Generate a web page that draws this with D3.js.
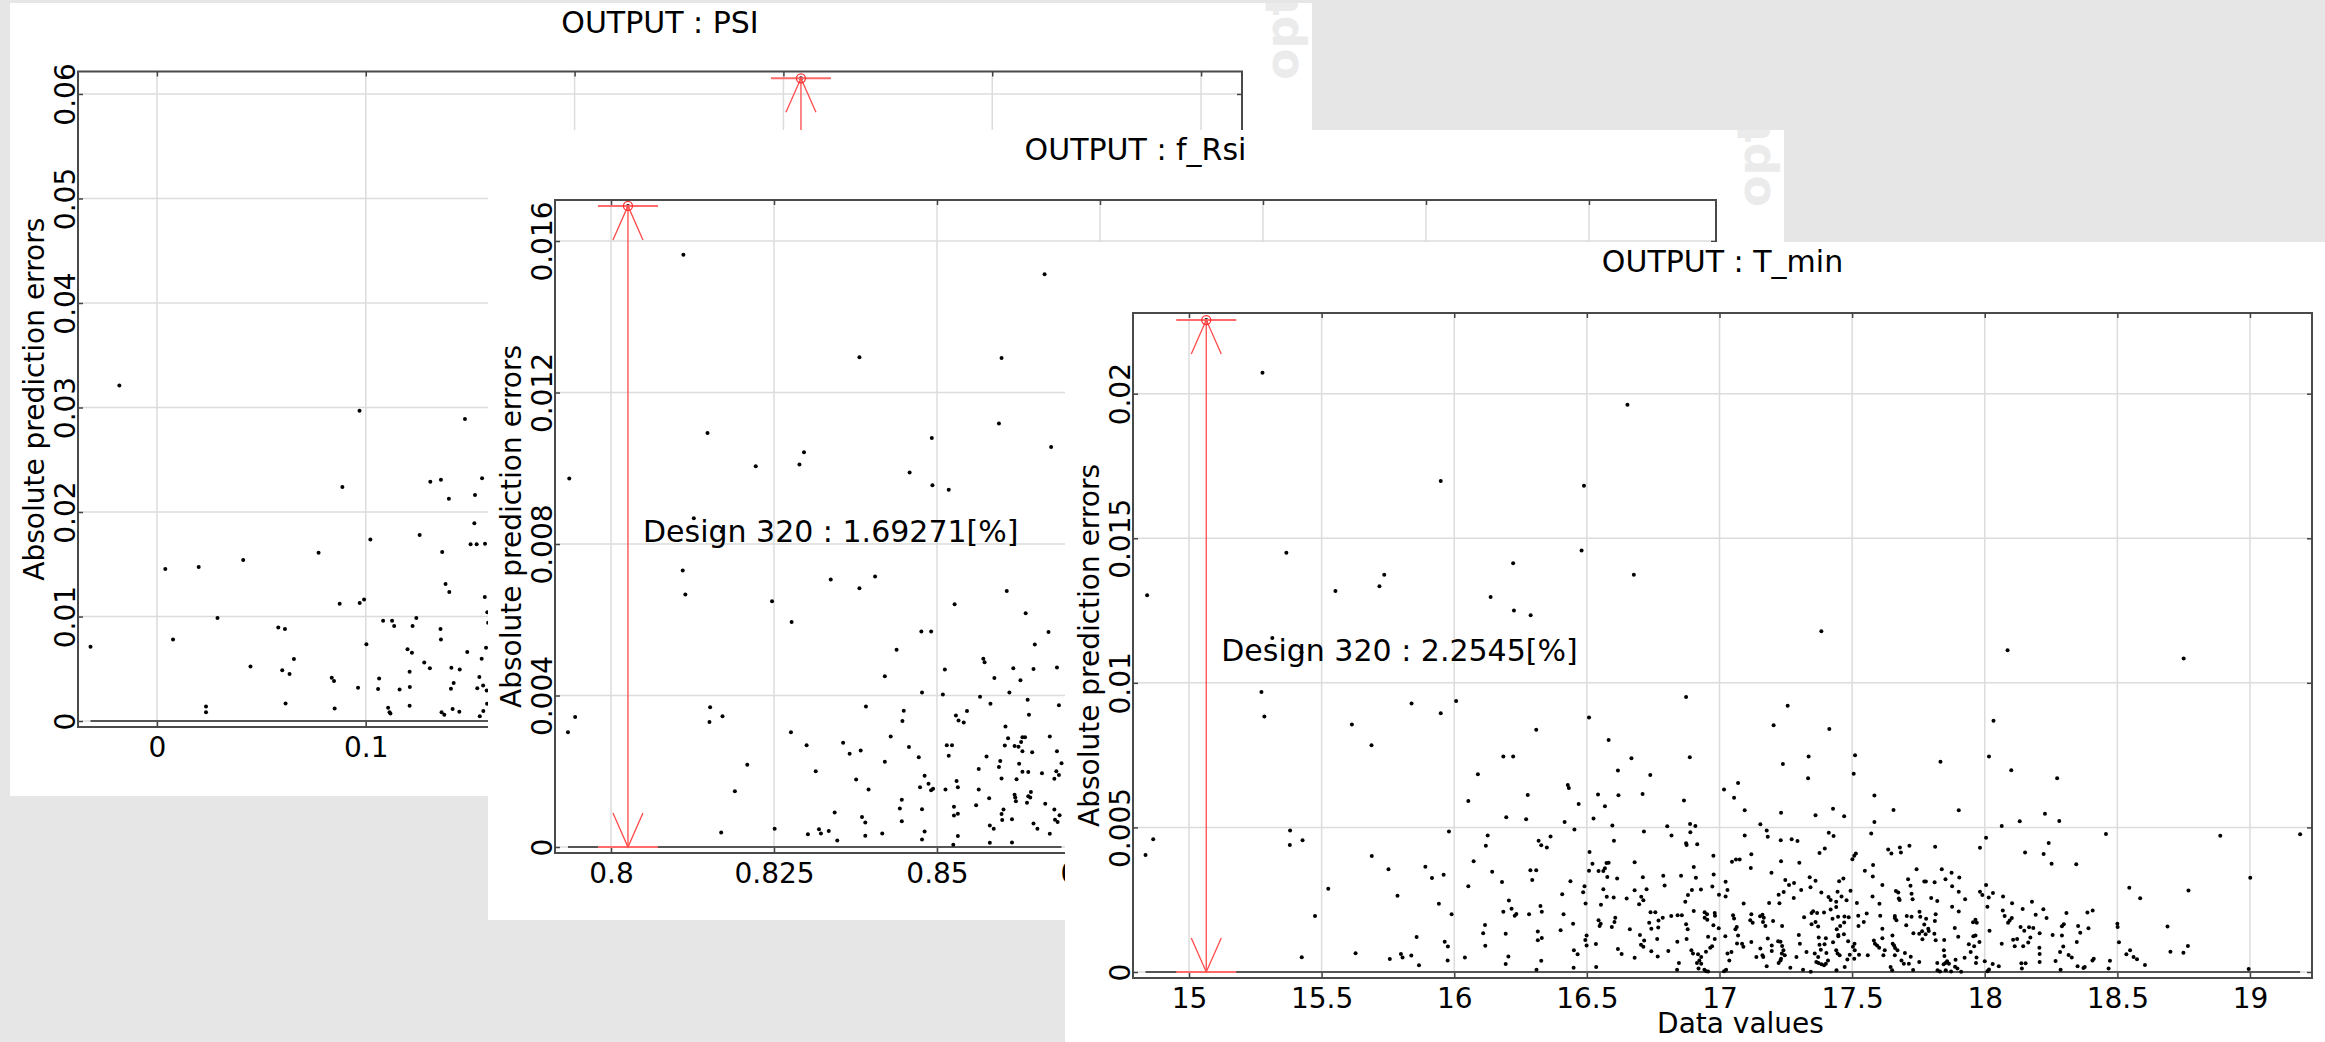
<!DOCTYPE html>
<html>
<head>
<meta charset="utf-8">
<script src="https://cdn.jsdelivr.net/npm/d3@7"></script>
<style>
html, body { margin: 0; padding: 0; background: #e6e6e6; overflow: hidden; }
svg { display: block; font-family: "DejaVu Sans", sans-serif; }
</style>
</head>
<body>
<svg id="chart" width="2325" height="1042"></svg>
<script>
const titles = ['OUTPUT : PSI', 'OUTPUT : f_Rsi', 'OUTPUT : T_min'];
const yTitle = 'Absolute prediction errors';
const xTitle = 'Data values';

const psiXTicks = [0, 0.1, 0.2, 0.3, 0.4, 0.5];
const psiXTickLabels = ['0', '0.1', '0.2', '0.3', '0.4', '0.5'];
const psiYTicks = [0, 0.01, 0.02, 0.03, 0.04, 0.05, 0.06];
const psiYTickLabels = ['0', '0.01', '0.02', '0.03', '0.04', '0.05', '0.06'];
const psiXDomain = [-0.0378, 0.5196];
const psiYDomain = [-0.00057, 0.06215];
const psiHighlight = [0.3084, 0.0615];

const fRsiXTicks = [0.8, 0.825, 0.85, 0.875, 0.9, 0.925, 0.95];
const fRsiXTickLabels = ['0.8', '0.825', '0.85', '0.875', '0.9', '0.925', '0.95'];
const fRsiYTicks = [0, 0.004, 0.008, 0.012, 0.016];
const fRsiYTickLabels = ['0', '0.004', '0.008', '0.012', '0.016'];
const fRsiXDomain = [0.79141, 0.96948];
const fRsiYDomain = [-0.000158, 0.017083];
const fRsiHighlight = [0.8026, 0.0169271];
const fRsiLabel = 'Design 320 : 1.69271[%]';

const tMinXTicks = [15, 15.5, 16, 16.5, 17, 17.5, 18, 18.5, 19];
const tMinXTickLabels = ['15', '15.5', '16', '16.5', '17', '17.5', '18', '18.5', '19'];
const tMinYTicks = [0, 0.005, 0.01, 0.015, 0.02];
const tMinYTickLabels = ['0', '0.005', '0.01', '0.015', '0.02'];
const tMinXDomain = [14.7888, 19.2338];
const tMinYDomain = [-0.000207, 0.02279];
const tMinHighlight = [15.065, 0.022545];
const tMinLabel = 'Design 320 : 2.2545[%]';

const psiPoints = [
  [-0.018,0.0321],[0.097,0.0297],[0.1475,0.0289],
  [-0.0318,0.00711],[0.0040,0.01455],[0.0077,0.00781],[0.0200,0.01474],[0.0235,0.00140],[0.0235,0.00083],
  [0.0290,0.00986],[0.0413,0.01541],[0.0448,0.00523],[0.0581,0.00896],[0.0613,0.00880],[0.0600,0.00485],
  [0.0635,0.00450],[0.0656,0.00593],[0.0616,0.00169],[0.0774,0.01611],[0.0837,0.00415],[0.0848,0.00383],
  [0.0851,0.00121],[0.0875,0.01123],[0.0888,0.02239],[0.0963,0.00319],[0.0971,0.01129],[0.0992,0.01164],
  [0.1003,0.00734],[0.1022,0.01738],[0.1059,0.00306],[0.1064,0.00408],[0.1083,0.00960],[0.1107,0.00128],
  [0.1114,0.00083],[0.1118,0.00073],[0.1126,0.00960],[0.1136,0.00909],[0.1162,0.00303],[0.1200,0.00686],
  [0.1210,0.00472],[0.1211,0.00325],[0.1210,0.00147],[0.1221,0.00654],[0.1224,0.00909],[0.1242,0.00986],
  [0.1258,0.01780],[0.1280,0.00561],[0.1307,0.00504],[0.1309,0.02290],[0.1360,0.02309],[0.1358,0.00880],
  [0.1360,0.00781],[0.1366,0.01617],[0.1382,0.01311],[0.1398,0.02128],[0.1400,0.01234],[0.1410,0.00510],
  [0.1408,0.00309],[0.1421,0.00364],[0.1363,0.00083],[0.1376,0.00061],[0.1416,0.00115],[0.1448,0.00089],
  [0.1450,0.00494],[0.1486,0.00660],[0.1502,0.01691],[0.1531,0.01691],[0.1520,0.01892],[0.1523,0.02163],
  [0.1557,0.02322],[0.1571,0.01697],[0.1570,0.01187],[0.1582,0.01040],[0.1586,0.00941],[0.1576,0.00702],
  [0.1555,0.00596],[0.1544,0.00421],[0.1534,0.00313],[0.1562,0.00341],[0.1579,0.00293],[0.1581,0.00166],
  [0.1563,0.00096],[0.1546,0.00045],
  [0.3084,0.0615]
];

const fRsiPoints = [
  [0.8026,0.0169271],[0.8111,0.01564],[0.8665,0.01512],[0.8381,0.01293],[0.8599,0.01291],[0.8148,0.01093],
  [0.7936,0.00973],[0.8222,0.01005],[0.8289,0.01010],[0.8296,0.01042],[0.8458,0.00989],[0.8492,0.01080],
  [0.8493,0.00955],[0.8518,0.00943],[0.8595,0.01118],[0.8675,0.01056],[0.8127,0.00868],[0.8170,0.00833],
  [0.8110,0.00730],[0.8114,0.00667],[0.8247,0.00649],[0.8277,0.00594],[0.8337,0.00706],[0.8381,0.00683],
  [0.8405,0.00714],[0.8527,0.00641],[0.8607,0.00676],[0.8636,0.00617],[0.8671,0.00568],[0.8476,0.00569],
  [0.8491,0.00569],[0.8438,0.00521],[0.8420,0.00451],[0.8512,0.00469],[0.8477,0.00408],[0.8509,0.00403],
  [0.8571,0.00497],[0.8573,0.00488],[0.8588,0.00446],[0.8617,0.00472],[0.8648,0.00470],[0.8650,0.00535],
  [0.8684,0.00474],[0.8628,0.00440],[0.8566,0.00397],[0.8611,0.00408],[0.8582,0.00378],[0.8639,0.00389],
  [0.8641,0.00349],[0.8687,0.00374],[0.8605,0.00318],[0.8609,0.00287],[0.8604,0.00268],[0.8619,0.00267],
  [0.8625,0.00265],[0.8629,0.00277],[0.8631,0.00290],[0.8635,0.00290],[0.8631,0.00253],[0.8646,0.00250],
  [0.8673,0.00292],[0.8684,0.00253],[0.8691,0.00221],[0.8576,0.00239],[0.8597,0.00227],[0.8595,0.00211],
  [0.8626,0.00220],[0.8564,0.00206],[0.8599,0.00181],[0.8622,0.00179],[0.8631,0.00199],[0.8640,0.00198],
  [0.8661,0.00195],[0.8680,0.00180],[0.8683,0.00200],[0.8687,0.00190],[0.8564,0.00152],[0.8580,0.00129],
  [0.8560,0.00110],[0.8619,0.00138],[0.8620,0.00131],[0.8621,0.00121],[0.8638,0.00117],[0.8640,0.00134],
  [0.8644,0.00145],[0.8643,0.00131],[0.8666,0.00114],[0.8680,0.00099],[0.8688,0.00084],[0.8681,0.00072],
  [0.8685,0.00066],[0.8602,0.00099],[0.8599,0.00087],[0.8600,0.00071],[0.8615,0.00073],[0.8581,0.00057],
  [0.8587,0.00048],[0.8648,0.00062],[0.8654,0.00048],[0.8673,0.00035],[0.8615,0.00012],[0.8581,0.00011],
  [0.8525,0.00006],[0.8532,0.00029],[0.8526,0.00106],[0.8526,0.00083],[0.8532,0.00088],[0.8513,0.00152],
  [0.8530,0.00174],[0.8532,0.00158],[0.8515,0.00269],[0.8523,0.00269],[0.8518,0.00241],[0.8529,0.00347],
  [0.8533,0.00334],[0.8541,0.00329],[0.8546,0.00359],[0.8449,0.00360],[0.8447,0.00333],[0.8391,0.00371],
  [0.8429,0.00292],[0.8457,0.00264],[0.8420,0.00225],[0.8472,0.00237],[0.8481,0.00188],[0.8487,0.00167],
  [0.8491,0.00150],[0.8494,0.00154],[0.8474,0.00158],[0.8446,0.00125],[0.8443,0.00102],[0.8446,0.00068],
  [0.8477,0.00100],[0.8481,0.00041],[0.8477,0.00020],[0.8416,0.00036],[0.8390,0.00030],[0.8385,0.00079],
  [0.8390,0.00065],[0.8395,0.00152],[0.8376,0.00178],[0.8383,0.00255],[0.8366,0.00246],[0.8356,0.00275],
  [0.8314,0.00200],[0.8300,0.00269],[0.8276,0.00303],[0.8343,0.00091],[0.8347,0.00017],[0.8334,0.00042],
  [0.8319,0.00047],[0.8322,0.00036],[0.8302,0.00034],[0.8251,0.00048],[0.8209,0.00217],[0.8190,0.00147],
  [0.8169,0.00038],[0.8152,0.00369],[0.8151,0.00330],[0.8171,0.00345],[0.7934,0.00303],[0.7945,0.00343]
];

const tMinPoints = [
  [15.065,0.022545],[15.277,0.02072],[15.949,0.01698],[16.489,0.01682],[16.653,0.01962],[16.480,0.01458],
  [16.222,0.01414],[16.677,0.01374],[15.367,0.01450],[15.736,0.01374],[15.718,0.01334],[15.552,0.01318],
  [14.842,0.01303],[16.137,0.01297],[16.225,0.01250],[16.288,0.01234],[15.314,0.01155],[15.424,0.01106],
  [15.273,0.00968],[15.284,0.00884],[15.614,0.00856],[15.688,0.00784],[15.839,0.00929],[15.949,0.00895],
  [16.007,0.00937],[16.309,0.00838],[16.508,0.00880],[16.582,0.00802],[16.668,0.00739],[16.617,0.00697],
  [16.739,0.00681],[16.185,0.00745],[16.222,0.00745],[16.089,0.00684],[16.874,0.00951],[16.888,0.00743],
  [17.384,0.01178],[18.086,0.01113],[18.750,0.01084],[17.257,0.00921],[17.204,0.00853],[17.414,0.00840],
  [18.033,0.00869],[17.336,0.00745],[17.239,0.00719],[17.511,0.00750],[17.506,0.00686],[17.833,0.00727],
  [18.016,0.00745],[18.100,0.00698],[18.273,0.00670],[17.334,0.00670],
  [14.836,0.00405],[14.865,0.00459],[15.381,0.00489],[15.428,0.00456],[15.380,0.00439],[15.425,0.00051],
  [15.475,0.00194],[15.525,0.00288],[15.628,0.00065],[15.689,0.00401],[15.752,0.00355],[15.786,0.00264],
  [15.757,0.00045],[15.799,0.00062],[15.805,0.00050],[15.838,0.00057],[15.858,0.00121],[15.867,0.00023],
  [15.891,0.00364],[15.916,0.00325],[15.942,0.00236],[15.960,0.00336],[15.964,0.00105],[15.976,0.00088],
  [15.975,0.00040],[15.980,0.00486],[15.990,0.00200],[16.040,0.00050],[16.053,0.00591],[16.053,0.00297],
  [16.073,0.00383],[16.126,0.00472],[16.119,0.00437],[16.143,0.00347],[16.180,0.00311],[16.206,0.00247],
  [16.216,0.00219],[16.185,0.00208],[16.228,0.00195],[16.234,0.00201],[16.116,0.00163],[16.109,0.00134],
  [16.194,0.00132],[16.117,0.00091],[16.204,0.00054],[16.194,0.00028],[16.196,0.00535],
  [16.428,0.00647],[16.432,0.00636],[16.277,0.00612],[16.542,0.00614],[16.619,0.00611],[16.710,0.00616],
  [17.070,0.00654],[17.017,0.00631],[17.055,0.00603],[16.866,0.00593],[16.469,0.00581],[16.568,0.00573],
  [17.095,0.00559],[17.232,0.00551],[17.584,0.00610],[17.656,0.00560],[17.428,0.00565],[17.470,0.00539],
  [17.362,0.00542],[16.271,0.00528],[16.525,0.00531],[16.416,0.00519],[17.584,0.00519],[16.596,0.00507],
  [16.803,0.00504],[16.889,0.00512],[16.909,0.00505],[17.154,0.00511],[16.453,0.00493],[16.715,0.00486],
  [16.890,0.00483],[17.178,0.00489],[16.363,0.00469],[16.819,0.00472],[17.095,0.00472],[17.182,0.00468],
  [17.572,0.00479],[17.412,0.00482],[17.430,0.00470],[16.318,0.00454],[16.602,0.00454],[17.231,0.00456],
  [17.272,0.00459],[17.294,0.00453],[16.328,0.00438],[16.349,0.00431],[16.874,0.00445],[16.876,0.00439],
  [16.916,0.00442],[16.510,0.00415],[17.377,0.00412],[17.397,0.00427],[17.636,0.00424],[17.648,0.00410],
  [17.680,0.00431],[17.684,0.00413],[17.716,0.00437],[16.977,0.00402],[17.120,0.00407],[17.508,0.00402],
  [17.514,0.00410],[17.501,0.00390],[17.047,0.00381],[17.062,0.00389],[17.076,0.00389],[16.521,0.00374],
  [16.680,0.00380],[16.574,0.00377],[16.582,0.00378],[16.568,0.00359],[17.232,0.00383],[17.301,0.00378],
  [16.287,0.00352],[16.309,0.00352],[16.508,0.00350],[16.544,0.00349],[16.562,0.00349],[16.903,0.00363],
  [17.118,0.00360],[17.548,0.00350],[17.579,0.00370],[17.743,0.00355],[16.294,0.00318],[16.438,0.00314],
  [16.577,0.00329],[16.614,0.00323],[16.711,0.00328],[16.788,0.00333],[16.855,0.00333],[16.911,0.00326],
  [16.978,0.00337],[17.196,0.00343],[17.248,0.00318],[17.281,0.00308],[17.340,0.00328],[17.362,0.00316],
  [17.451,0.00314],[17.467,0.00323],[17.578,0.00330],[17.711,0.00321],[17.772,0.00313],[16.491,0.00297],
  [16.486,0.00276],[16.562,0.00286],[16.680,0.00283],[16.725,0.00286],[16.793,0.00299],[16.896,0.00284],
  [16.930,0.00285],[16.973,0.00296],[17.023,0.00312],[17.030,0.00284],[17.242,0.00277],[17.262,0.00301],
  [17.308,0.00284],[17.343,0.00293],[17.384,0.00275],[17.445,0.00278],[17.494,0.00281],[17.614,0.00301],
  [17.665,0.00280],[17.674,0.00275],[17.720,0.00298],[17.724,0.00271],[16.407,0.00269],[16.575,0.00260],
  [16.601,0.00258],[16.650,0.00254],[16.705,0.00260],[16.713,0.00248],[16.881,0.00266],[16.998,0.00267],
  [17.023,0.00261],[17.223,0.00267],[17.280,0.00256],[17.411,0.00259],[17.419,0.00249],[17.460,0.00261],
  [17.479,0.00248],[17.577,0.00261],[17.676,0.00254],[17.679,0.00249],[17.728,0.00252],[16.495,0.00237],
  [16.553,0.00233],[16.697,0.00234],[16.871,0.00243],[17.091,0.00237],[17.187,0.00239],[17.226,0.00238],
  [17.440,0.00243],[17.518,0.00239],[17.603,0.00236],[16.325,0.00228],[16.330,0.00208],[16.282,0.00200],
  [16.412,0.00200],[16.740,0.00207],[16.758,0.00207],[16.903,0.00211],[16.818,0.00194],[16.842,0.00196],
  [16.858,0.00196],[16.944,0.00207],[16.953,0.00200],[16.982,0.00204],[16.983,0.00195],[17.120,0.00200],
  [17.153,0.00193],[17.162,0.00198],[17.555,0.00202],[17.754,0.00208],[17.319,0.00189],[17.347,0.00204],
  [17.353,0.00210],[17.368,0.00204],[17.394,0.00206],[17.419,0.00216],[17.440,0.00225],[17.447,0.00191],
  [17.471,0.00192],[17.487,0.00189],[17.523,0.00195],[17.606,0.00195],[17.661,0.00194],[17.706,0.00194],
  [17.724,0.00191],[16.544,0.00179],[16.552,0.00167],[16.607,0.00188],[16.604,0.00173],[16.594,0.00156],
  [16.548,0.00159],[16.735,0.00170],[16.743,0.00150],[16.770,0.00178],[16.769,0.00154],[16.786,0.00188],
  [16.874,0.00165],[16.880,0.00148],[16.944,0.00188],[16.954,0.00181],[16.977,0.00162],[16.997,0.00151],
  [17.051,0.00196],[17.055,0.00185],[17.065,0.00156],[17.060,0.00148],[17.116,0.00179],[17.125,0.00170],
  [17.167,0.00188],[17.164,0.00173],[17.173,0.00159],[17.202,0.00176],[17.236,0.00159],[17.347,0.00165],
  [17.362,0.00173],[17.372,0.00157],[17.426,0.00184],[17.442,0.00148],[17.455,0.00159],[17.470,0.00171],
  [17.448,0.00124],[17.524,0.00159],[17.544,0.00173],[17.614,0.00150],[17.661,0.00187],[17.667,0.00179],
  [17.704,0.00162],[17.731,0.00134],[17.757,0.00191],[17.772,0.00164],[17.764,0.00141],[16.315,0.00140],
  [16.315,0.00110],[16.330,0.00118],[16.401,0.00144],[16.448,0.00167],[16.499,0.00126],[16.494,0.00111],
  [16.499,0.00092],[16.534,0.00097],[16.662,0.00148],[16.700,0.00128],[16.716,0.00109],[16.704,0.00094],
  [16.713,0.00087],[16.765,0.00114],[16.841,0.00105],[16.876,0.00114],[16.957,0.00122],[16.982,0.00114],
  [17.022,0.00124],[17.066,0.00099],[17.070,0.00126],[17.085,0.00098],[17.090,0.00087],[17.120,0.00104],
  [17.182,0.00116],[17.197,0.00092],[17.221,0.00106],[17.230,0.00105],[17.236,0.00090],[17.299,0.00128],
  [17.303,0.00098],[17.374,0.00119],[17.377,0.00094],[17.382,0.00077],[17.396,0.00096],[17.401,0.00117],
  [17.428,0.00103],[17.448,0.00128],[17.469,0.00131],[17.485,0.00106],[17.503,0.00087],[17.509,0.00098],
  [17.582,0.00109],[17.594,0.00092],[17.602,0.00084],[17.614,0.00117],[17.652,0.00126],[17.653,0.00098],
  [17.658,0.00092],[17.662,0.00083],[17.699,0.00066],[17.753,0.00132],[17.765,0.00113],[16.451,0.00075],
  [16.465,0.00061],[16.328,0.00039],[16.310,0.00008],[16.450,0.00015],[16.535,0.00017],[16.617,0.00080],
  [16.631,0.00062],[16.680,0.00049],[16.743,0.00072],[16.767,0.00054],[16.807,0.00073],[16.847,0.00031],
  [16.840,0.00008],[16.894,0.00075],[16.900,0.00064],[16.919,0.00061],[16.931,0.00052],[16.924,0.00040],
  [16.931,0.00029],[16.915,0.00031],[16.949,0.00070],[16.965,0.00084],[16.943,0.00008],[16.950,0.00003],
  [16.957,0.00002],[16.921,0.00012],[16.972,0.00089],[17.017,0.00003],[17.025,0.00008],[17.030,0.00064],
  [17.037,0.00040],[17.045,0.00069],[17.139,0.00052],[17.154,0.00081],[17.162,0.00058],[17.165,0.00052],
  [17.178,0.00020],[17.197,0.00073],[17.223,0.00031],[17.230,0.00040],[17.235,0.00064],[17.241,0.00075],
  [17.246,0.00058],[17.232,0.00046],[17.267,0.00015],[17.290,0.00052],[17.315,0.00008],[17.328,0.00069],
  [17.344,0.00001],[17.359,0.00064],[17.372,0.00052],[17.365,0.00035],[17.373,0.00031],[17.384,0.00027],
  [17.394,0.00023],[17.401,0.00029],[17.409,0.00040],[17.403,0.00066],[17.440,0.00075],[17.445,0.00064],
  [17.453,0.00058],[17.441,0.00006],[17.472,0.00017],[17.482,0.00043],[17.491,0.00060],[17.510,0.00075],
  [17.508,0.00046],[17.526,0.00060],[17.559,0.00058],[17.586,0.00098],[17.618,0.00058],[17.623,0.00075],
  [17.645,0.00017],[17.651,0.00006],[17.661,0.00058],[17.671,0.00075],[17.686,0.00040],[17.695,0.00029],
  [17.721,0.00053],[17.730,0.00007],[17.753,0.00035],[17.714,0.00029],
  [17.902,0.00559],[18.227,0.00547],[18.132,0.00521],[18.064,0.00505],[18.281,0.00522],[18.457,0.00477],
  [18.888,0.00471],[19.189,0.00476],[18.005,0.00464],[17.813,0.00433],[17.982,0.00430],[18.241,0.00446],
  [18.152,0.00413],[18.222,0.00408],[18.252,0.00374],[18.345,0.00373],[17.838,0.00355],[17.875,0.00343],
  [17.852,0.00321],[17.904,0.00327],[19.001,0.00326],[18.545,0.00291],[18.586,0.00255],[18.768,0.00282],
  [17.778,0.00313],[17.811,0.00310],[17.877,0.00297],[17.902,0.00278],[18.005,0.00301],[17.982,0.00278],
  [17.991,0.00266],[18.015,0.00258],[18.031,0.00273],[18.069,0.00261],[18.103,0.00238],[17.798,0.00256],
  [17.821,0.00246],[17.926,0.00252],[18.178,0.00243],[18.010,0.00226],[17.877,0.00226],[17.902,0.00209],
  [18.143,0.00218],[18.221,0.00217],[18.068,0.00213],[18.075,0.00194],[18.192,0.00198],[18.233,0.00187],
  [18.308,0.00204],[18.387,0.00206],[18.407,0.00213],[17.815,0.00200],[17.779,0.00184],[17.812,0.00176],
  [17.956,0.00172],[17.965,0.00181],[17.970,0.00170],[18.094,0.00178],[18.088,0.00170],[18.102,0.00187],
  [18.135,0.00156],[18.149,0.00143],[18.167,0.00155],[18.183,0.00152],[18.207,0.00134],[18.291,0.00158],
  [18.298,0.00165],[18.352,0.00159],[18.391,0.00151],[18.360,0.00136],[18.500,0.00167],[18.501,0.00156],
  [18.689,0.00157],[17.787,0.00150],[17.789,0.00142],[17.777,0.00131],[17.810,0.00132],[17.887,0.00152],
  [17.957,0.00124],[17.965,0.00126],[17.900,0.00122],[18.018,0.00143],[17.815,0.00110],[17.847,0.00111],
  [17.940,0.00096],[17.960,0.00089],[17.980,0.00104],[18.064,0.00098],[18.107,0.00112],[18.122,0.00114],
  [18.113,0.00089],[18.145,0.00089],[18.164,0.00102],[18.172,0.00119],[18.256,0.00128],[18.291,0.00126],
  [18.296,0.00088],[18.347,0.00104],[18.506,0.00103],[18.700,0.00070],[18.749,0.00067],[18.766,0.00090],
  [18.548,0.00075],[18.534,0.00061],[18.561,0.00052],[18.574,0.00044],[18.604,0.00024],[18.284,0.00069],
  [18.316,0.00059],[18.328,0.00050],[18.206,0.00084],[18.207,0.00062],[18.207,0.00035],[18.267,0.00038],
  [18.406,0.00040],[18.411,0.00046],[18.472,0.00039],[18.467,0.00012],[18.377,0.00017],[18.350,0.00020],
  [18.372,0.00014],[18.286,0.00008],[18.140,0.00012],[18.138,0.00030],[18.154,0.00030],[18.053,0.00020],
  [18.030,0.00028],[18.016,0.00009],[18.010,0.00003],[18.000,0.00037],[17.967,0.00031],[17.969,0.00050],
  [17.947,0.00069],[17.924,0.00049],[17.846,0.00075],[17.848,0.00055],[17.858,0.00037],[17.865,0.00029],
  [17.852,0.00031],[17.845,0.00027],[17.890,0.00042],[17.888,0.00018],[17.897,0.00012],[17.911,0.00001],
  [17.873,0.00002],[17.853,0.00006],[17.831,0.00002],[17.822,0.00006],[17.821,0.00031],[18.995,0.00010]
];

// ---- layout of the three overlapping windows (screen pixels) ----
const panels = [
  { id: 'psi', title: titles[0], points: psiPoints, hl: psiHighlight, label: null, mark: true,
    win: { x: 10, y: 3, w: 1302, h: 793 }, plot: { l: 78, t: 71.5, r: 1242, b: 727 },
    xDomain: psiXDomain, yDomain: psiYDomain,
    xTicks: psiXTicks, xLabels: psiXTickLabels, yTicks: psiYTicks, yLabels: psiYTickLabels },
  { id: 'frsi', title: titles[1], points: fRsiPoints, hl: fRsiHighlight, label: fRsiLabel, mark: true,
    win: { x: 488, y: 130, w: 1296, h: 790 }, plot: { l: 555, t: 200, r: 1716, b: 853 },
    xDomain: fRsiXDomain, yDomain: fRsiYDomain,
    xTicks: fRsiXTicks, xLabels: fRsiXTickLabels, yTicks: fRsiYTicks, yLabels: fRsiYTickLabels },
  { id: 'tmin', title: titles[2], points: tMinPoints, hl: tMinHighlight, label: tMinLabel, mark: false,
    win: { x: 1065, y: 242, w: 1260, h: 800 }, plot: { l: 1133, t: 313, r: 2312, b: 978 },
    xDomain: tMinXDomain, yDomain: tMinYDomain,
    xTicks: tMinXTicks, xLabels: tMinXTickLabels, yTicks: tMinYTicks, yLabels: tMinYTickLabels }
];

const svg = d3.select('#chart');
const defs = svg.append('defs');

function drawPanel(cfg) {
  const W = cfg.win, P = cfg.plot;

  defs.append('clipPath').attr('id', 'clip-' + cfg.id)
  .append('rect').attr('x', W.x).attr('y', W.y).attr('width', W.w).attr('height', W.h);

  const g = svg.append('g').attr('clip-path', `url(#clip-${cfg.id})`);

  g.append('rect')
  .attr('x', W.x).attr('y', W.y).attr('width', W.w).attr('height', W.h)
  .attr('fill', '#fff');

  // faint product watermark at the right edge (off screen for the last window)
  if (cfg.mark) {
    g.append('text')
    .attr('transform', `translate(${W.x + W.w - 14},${W.y + 77}) rotate(-90)`)
    .attr('font-size', 46).attr('font-weight', 'bold').attr('fill', '#ebebeb')
    .text('optiSLang');
  }

  const xScale = d3.scaleLinear().domain(cfg.xDomain).range([P.l, P.r]);
  const yScale = d3.scaleLinear().domain(cfg.yDomain).range([P.b, P.t]);

  g.append('text')
  .attr('x', (P.l + P.r) / 2).attr('y', W.y + 30)
  .attr('text-anchor', 'middle').attr('font-size', 30)
  .text(cfg.title);

  // grid
  g.append('g').selectAll('line').data(cfg.xTicks).enter().append('line')
  .attr('x1', d => xScale(d)).attr('x2', d => xScale(d))
  .attr('y1', P.t).attr('y2', P.b)
  .attr('stroke', '#dcdcdc').attr('stroke-width', 1.5);
  g.append('g').selectAll('line').data(cfg.yTicks).enter().append('line')
  .attr('x1', P.l).attr('x2', P.r)
  .attr('y1', d => yScale(d)).attr('y2', d => yScale(d))
  .attr('stroke', '#dcdcdc').attr('stroke-width', 1.5);

  // zero line across the data range
  const xExt = d3.extent(cfg.points, d => d[0]);
  g.append('line')
  .attr('x1', xScale(xExt[0])).attr('x2', xScale(xExt[1]))
  .attr('y1', yScale(0)).attr('y2', yScale(0))
  .attr('stroke', '#555').attr('stroke-width', 2);

  g.append('g').selectAll('circle').data(cfg.points).enter().append('circle')
  .attr('cx', d => xScale(d[0])).attr('cy', d => yScale(d[1]))
  .attr('r', 2).attr('fill', '#000');

  // highlighted design: crossbars, arrows, ring
  const hx = xScale(cfg.hl[0]), hy = yScale(cfg.hl[1]), y0 = yScale(0);
  const ann = g.append('g').attr('fill', 'none');
  ann.append('line').attr('x1', hx).attr('x2', hx).attr('y1', hy).attr('y2', y0)
  .attr('stroke', '#ff4a4a').attr('stroke-width', 1.3);
  [hy, y0].forEach(yy => {
    ann.append('line').attr('x1', hx - 30).attr('x2', hx + 30).attr('y1', yy).attr('y2', yy)
    .attr('stroke', '#ff6a6a').attr('stroke-width', 2);
  });
  [[hy, 34], [y0, -34]].forEach(([yy, dy]) => {
    ann.append('path')
    .attr('d', `M${hx - 15},${yy + dy}L${hx},${yy}L${hx + 15},${yy + dy}`)
    .attr('stroke', '#ff4a4a').attr('stroke-width', 1.3);
  });
  ann.append('circle').attr('cx', hx).attr('cy', hy).attr('r', 4.5)
  .attr('stroke', '#ff3030').attr('stroke-width', 1.3);

  if (cfg.label) {
    g.append('text')
    .attr('x', hx + 15).attr('y', (P.t + P.b) / 2 + 15)
    .attr('font-size', 30).attr('fill', '#000')
    .text(cfg.label);
  }

  // frame and inward ticks
  g.append('rect')
  .attr('x', P.l).attr('y', P.t).attr('width', P.r - P.l).attr('height', P.b - P.t)
  .attr('fill', 'none').attr('stroke', '#4a4a4a').attr('stroke-width', 2);

  const styleAxis = sel => {
    sel.select('.domain').remove();
    sel.attr('font-size', 28).attr('font-family', '"DejaVu Sans", sans-serif');
    sel.selectAll('line').attr('stroke', '#444').attr('stroke-width', 1.5);
    sel.selectAll('text').attr('fill', '#000');
  };

  g.append('g').attr('transform', `translate(0,${P.b})`)
  .call(d3.axisBottom(xScale).tickValues(cfg.xTicks)
    .tickFormat((d, i) => cfg.xLabels[i]).tickSize(-5).tickPadding(10))
  .call(styleAxis);

  g.append('g').attr('transform', `translate(0,${P.t})`)
  .call(d3.axisTop(xScale).tickValues(cfg.xTicks).tickFormat(() => '').tickSize(-5))
  .call(styleAxis);

  g.append('g').attr('transform', `translate(${P.r},0)`)
  .call(d3.axisRight(yScale).tickValues(cfg.yTicks).tickFormat(() => '').tickSize(-5))
  .call(styleAxis);

  g.append('g').attr('transform', `translate(${P.l},0)`)
  .call(d3.axisLeft(yScale).tickValues(cfg.yTicks)
    .tickFormat((d, i) => cfg.yLabels[i]).tickSize(-5))
  .call(styleAxis)
  .selectAll('text')
  .attr('x', 0).attr('dy', null)
  .attr('text-anchor', 'middle')
  .attr('transform', 'translate(-3,0) rotate(-90)');

  g.append('text')
  .attr('transform', `translate(${P.l - 34},${(P.t + P.b) / 2}) rotate(-90)`)
  .attr('text-anchor', 'middle').attr('font-size', 28)
  .text(yTitle);

  g.append('text')
  .attr('x', (P.l + P.r) / 2 + 18).attr('y', P.b + 55)
  .attr('text-anchor', 'middle').attr('font-size', 28)
  .text(xTitle);
}

panels.forEach(drawPanel);
</script>
</body>
</html>
